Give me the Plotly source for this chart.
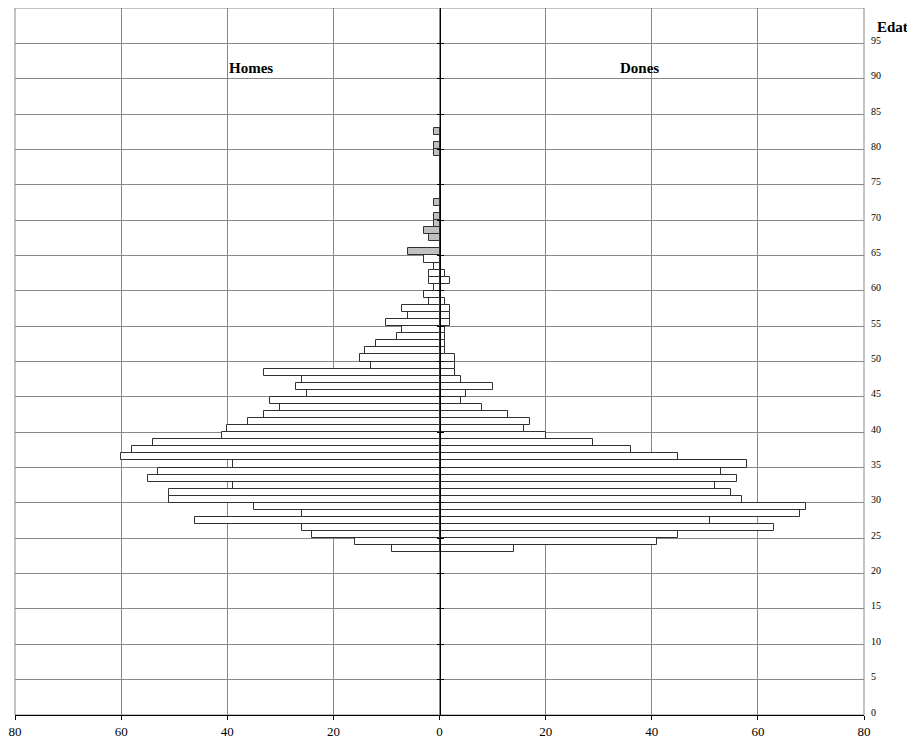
import plotly.graph_objects as go

# ---- data ----
ages = list(range(23, 83))
homes = [9, 16, 24, 26, 46, 26, 35, 51, 51, 39,      # 23-32
         55, 53, 39, 60, 58, 54, 41, 40, 36, 33,     # 33-42
         30, 32, 25, 27, 26, 33, 13, 15, 14, 12,     # 43-52
         8, 7, 10, 6, 7, 2, 3, 1, 2, 2,              # 53-62
         1, 3, 6, 0, 2, 3, 1, 1, 0, 1,               # 63-72
         0, 0, 0, 0, 0, 0, 1, 1, 0, 1]               # 73-82
dones = [14, 41, 45, 63, 51, 68, 69, 57, 55, 52,     # 23-32
         56, 53, 58, 45, 36, 29, 20, 16, 17, 13,     # 33-42
         8, 4, 5, 10, 4, 3, 3, 3, 1, 1,              # 43-52
         1, 1, 2, 2, 2, 1, 0, 0, 2, 1,               # 53-62
         0, 0, 0, 0, 0, 0, 0, 0, 0, 0,               # 63-72
         0, 0, 0, 0, 0, 0, 0, 0, 0, 0]               # 73-82
x_tickvals = [-80, -60, -40, -20, 0, 20, 40, 60, 80]
x_ticktext = ["80", "60", "40", "20", "0", "20", "40", "60", "80"]
y_tickvals = list(range(0, 100, 5))
y_ticktext = [str(v) for v in y_tickvals]
older_age = 65

FONT = "Liberation Serif"
ypos = [a + 0.5 for a in ages]
men_colors = ["#c0c0c0" if a >= older_age else "#ffffff" for a in ages]

fig = go.Figure()
fig.add_trace(go.Bar(
    y=ypos, x=[-v for v in homes], orientation="h", width=1,
    marker=dict(color=men_colors, line=dict(color="#303030", width=1)),
    name="Homes", showlegend=False))
fig.add_trace(go.Bar(
    y=ypos, x=dones, orientation="h", width=1,
    marker=dict(color="#ffffff", line=dict(color="#303030", width=1)),
    name="Dones", showlegend=False))
# empty traces to make the central axes render
fig.add_trace(go.Scatter(x=[None], y=[None], yaxis="y2", showlegend=False))
fig.add_trace(go.Scatter(x=[None], y=[None], yaxis="y3", showlegend=False))

fig.update_layout(
    width=915, height=746,
    margin=dict(l=7, r=59, t=0, b=39),
    paper_bgcolor="white", plot_bgcolor="white",
    barmode="overlay", bargap=0,
    font=dict(family=FONT, color="black"),
    xaxis=dict(range=[-80, 80], tickvals=x_tickvals, ticktext=x_ticktext,
               showgrid=True, gridcolor="#888888", gridwidth=1,
               zeroline=False, showline=True, linecolor="black", linewidth=1,
               ticks="outside", ticklen=4, tickcolor="black",
               tickfont=dict(family=FONT, size=13), ticklabelstandoff=0,
               automargin=False),
    yaxis=dict(range=[0, 100], tickvals=y_tickvals + [100],
               ticktext=y_ticktext + [""], side="right",
               showgrid=True, gridcolor="#888888", gridwidth=1,
               zeroline=False, showline=False, ticks="",
               tickfont=dict(family=FONT, size=10),
               ticklabelstandoff=6, ticklabelshift=-3, automargin=False),
    yaxis2=dict(range=[0, 100], overlaying="y", anchor="free", position=0.5,
                tickvals=y_tickvals, showticklabels=False, showgrid=False,
                zeroline=False, showline=True, linecolor="black", linewidth=1,
                ticks="outside", ticklen=3, tickcolor="black", automargin=False),
    yaxis3=dict(range=[0, 100], overlaying="y", anchor="free", position=0.5,
                tickvals=y_tickvals, showticklabels=False, showgrid=False,
                zeroline=False, showline=False,
                ticks="inside", ticklen=3, tickcolor="black", automargin=False),
    shapes=[dict(type="rect", xref="paper", yref="paper", x0=0, x1=1, y0=0, y1=1,
                 line=dict(color="#888888", width=1), layer="below")],
    annotations=[
        dict(text="<b>Homes</b>", x=-35.6, y=91.5, xref="x", yref="y",
             xanchor="center", yanchor="middle",
             showarrow=False, font=dict(family=FONT, size=15)),
        dict(text="<b>Dones</b>", x=37.7, y=91.5, xref="x", yref="y",
             xanchor="center", yanchor="middle",
             showarrow=False, font=dict(family=FONT, size=15)),
        dict(text="<b>Edat</b>", x=1.0336, y=97.3, xref="paper", yref="y",
             xanchor="center", yanchor="middle",
             showarrow=False, font=dict(family=FONT, size=15)),
    ],
)

fig.write_html("out.html")
